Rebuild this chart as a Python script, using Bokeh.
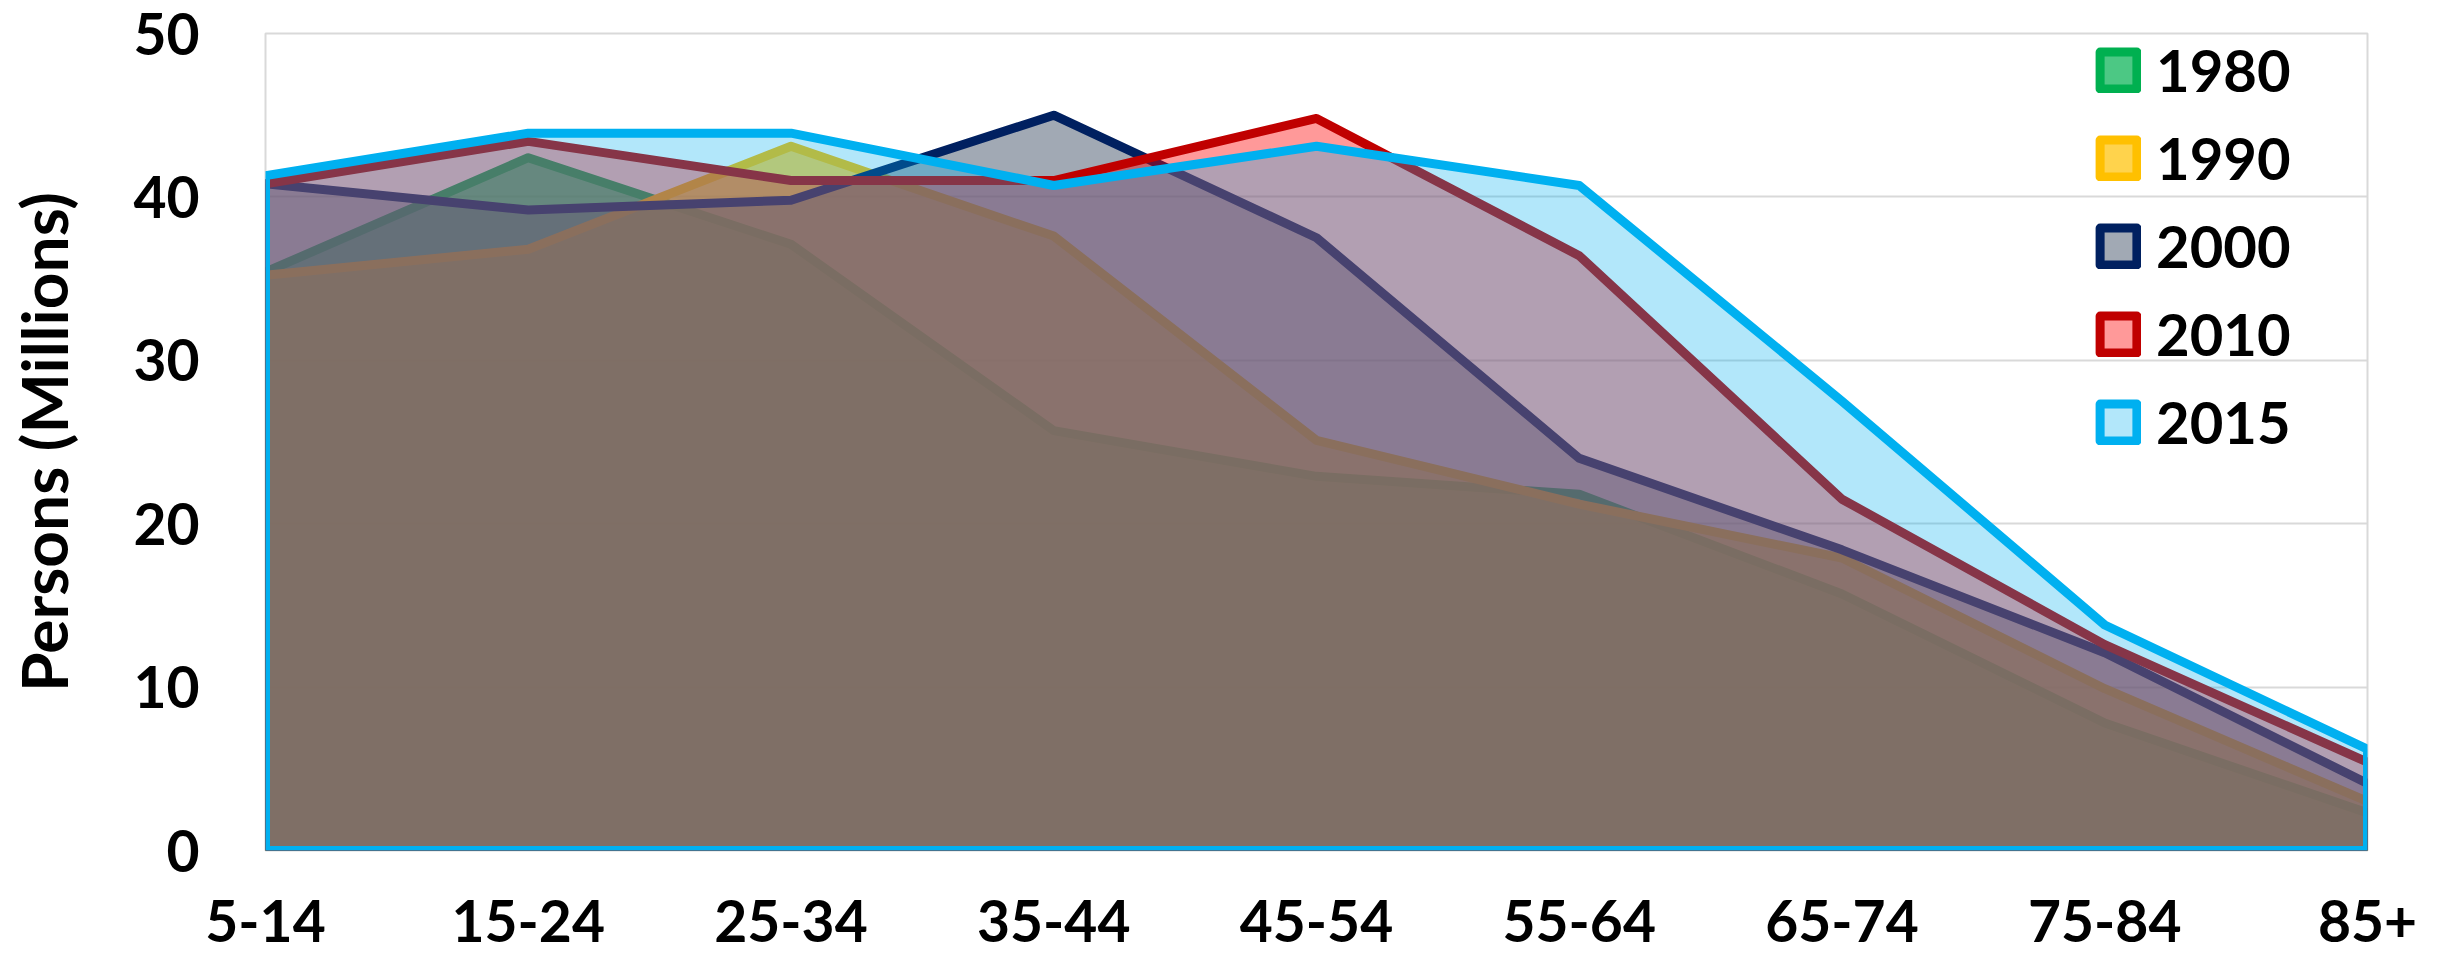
from bokeh.plotting import figure
from bokeh.models import Range1d, Legend, LegendItem, FixedTicker
from bokeh.embed import file_html
from bokeh.resources import INLINE

categories = ["5-14", "15-24", "25-34", "35-44", "45-54", "55-64", "65-74", "75-84", "85+"]
years = ["1980", "1990", "2000", "2010", "2015"]
y1980 = [35.4, 42.4, 37.1, 25.7, 22.9, 21.8, 15.7, 7.8, 2.3]
y1990 = [35.2, 36.8, 43.1, 37.6, 25.1, 21.2, 17.9, 9.9, 3.0]
y2000 = [40.8, 39.2, 39.8, 45.0, 37.5, 24.0, 18.4, 12.1, 4.1]
y2010 = [40.8, 43.4, 41.0, 41.0, 44.8, 36.4, 21.5, 12.6, 5.4]
y2015 = [41.3, 43.9, 43.9, 40.7, 43.1, 40.7, 27.5, 13.8, 6.2]
series = [y1980, y1990, y2000, y2010, y2015]
y_ticks = [0, 10, 20, 30, 40, 50]

line_colors = ["#00B050", "#FFC000", "#002060", "#C00000", "#00B0F0"]
fill_colors = ["#00B050", "#FFC000", "#44546A", "#FF0000", "#00B0F0"]
fill_alphas = [0.7, 0.7, 0.5, 0.4, 0.3]

FONT = "Lato"

p = figure(width=2442, height=959, output_backend="svg", toolbar_location=None,
           x_range=Range1d(0, len(categories) - 1), y_range=Range1d(0, 50),
           min_border_left=265, min_border_right=75, min_border_top=33, min_border_bottom=109)
p.background_fill_color = "white"
p.border_fill_color = "white"
p.outline_line_color = "#D9D9D9"
p.outline_line_width = 2

p.xgrid.grid_line_color = None
p.ygrid.grid_line_color = "#D9D9D9"
p.ygrid.grid_line_width = 2
p.ygrid.ticker = FixedTicker(ticks=y_ticks)

p.xaxis.ticker = FixedTicker(ticks=list(range(len(categories))))
p.xaxis.major_label_overrides = {i: c for i, c in enumerate(categories)}
p.yaxis.ticker = FixedTicker(ticks=y_ticks)

for ax in (p.xaxis[0], p.yaxis[0]):
    ax.axis_line_color = None
    ax.major_tick_line_color = None
    ax.minor_tick_line_color = None
    ax.major_label_text_font = FONT
    ax.major_label_text_font_style = "bold"
    ax.major_label_text_font_size = "57px"
    ax.major_label_text_color = "black"

p.xaxis.major_label_standoff = 43
p.yaxis.major_label_standoff = 60
p.yaxis.axis_label = "Persons (Millions)"
p.yaxis.axis_label_text_font = FONT
p.yaxis.axis_label_text_font_style = "bold"
p.yaxis.axis_label_text_font_size = "64px"
p.yaxis.axis_label_text_color = "black"
p.yaxis.axis_label_standoff = 48

items = []
n = len(categories)
for yr, vals, lc, fc, fa in zip(years, series, line_colors, fill_colors, fill_alphas):
    xs = list(range(n)) + [n - 1, 0]
    ys = list(vals) + [0, 0]
    r = p.patch(xs, ys, fill_color=fc, fill_alpha=fa, line_color=lc, line_width=9,
                line_join="round")
    items.append(LegendItem(label=yr, renderers=[r]))

legend = Legend(items=items, location=(1830, 394), orientation="vertical",
                glyph_width=46, glyph_height=46, label_height=46,
                spacing=19, padding=0, margin=0, label_standoff=15,
                label_text_font=FONT, label_text_font_style="bold",
                label_text_font_size="58px", label_text_color="black",
                border_line_color=None, background_fill_alpha=0)
p.add_layout(legend)

open("out.html", "w").write(file_html(p, INLINE))
